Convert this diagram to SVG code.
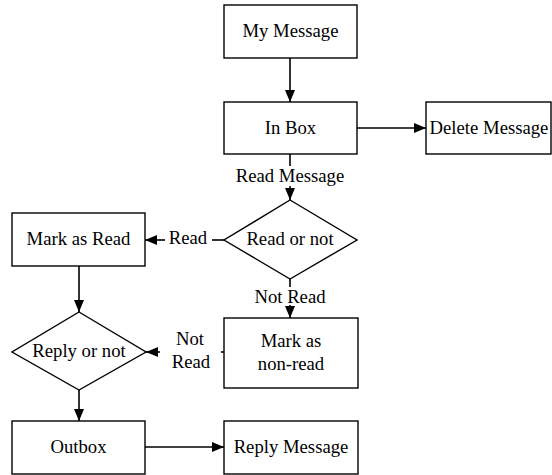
<svg xmlns="http://www.w3.org/2000/svg" width="552" height="475" viewBox="0 0 552 475">
<style>
.box{fill:#fff;stroke:#000;stroke-width:1.4}
.ln{fill:none;stroke:#000;stroke-width:1.6}
text{font-family:"Liberation Serif","Times New Roman",serif;font-size:18.7px;fill:#000;text-anchor:middle}
</style>
<defs>
<marker id="ah" viewBox="0 0 12 10" refX="12" refY="5" markerWidth="12" markerHeight="10" markerUnits="userSpaceOnUse" orient="auto">
<path d="M0,0 L12,5 L0,10 Z" fill="#000"/>
</marker>
</defs>
<rect width="552" height="475" fill="#fff"/>
<g id="connectors">
<line class="ln" x1="290" y1="58" x2="290" y2="102" marker-end="url(#ah)"/>
<line class="ln" x1="357" y1="128" x2="426" y2="128" marker-end="url(#ah)"/>
<line class="ln" x1="290" y1="154" x2="290" y2="166"/>
<line class="ln" x1="290" y1="186" x2="290" y2="200" marker-end="url(#ah)"/>
<text x="290" y="182">Read Message</text>
<line class="ln" x1="224" y1="240" x2="212" y2="240"/>
<line class="ln" x1="165" y1="240" x2="145" y2="240" marker-end="url(#ah)"/>
<text x="188" y="244">Read</text>
<line class="ln" x1="290" y1="279" x2="290" y2="287"/>
<line class="ln" x1="290" y1="305" x2="290" y2="318" marker-end="url(#ah)"/>
<text x="290" y="303">Not Read</text>
<line class="ln" x1="79" y1="266" x2="79" y2="312" marker-end="url(#ah)"/>
<line class="ln" x1="224" y1="352" x2="221" y2="352"/>
<line class="ln" x1="160" y1="352" x2="146" y2="352" marker-end="url(#ah)"/>
<text x="190" y="345">Not</text>
<text x="191" y="368">Read</text>
<line class="ln" x1="79" y1="390" x2="79" y2="421" marker-end="url(#ah)"/>
<line class="ln" x1="145" y1="447" x2="224" y2="447" marker-end="url(#ah)"/>
</g>
<g id="my-message"><rect class="box" x="224" y="5" width="133" height="53"/><text x="290.5" y="37">My Message</text></g>
<g id="in-box"><rect class="box" x="224" y="102" width="133" height="52"/><text x="290.5" y="134">In Box</text></g>
<g id="delete-message"><rect class="box" x="426" y="102" width="125" height="52"/><text x="489" y="134">Delete Message</text></g>
<g id="read-or-not"><polygon class="box" points="290,200 357,240 290,279 224,240"/><text x="290" y="245">Read or not</text></g>
<g id="mark-as-read"><rect class="box" x="12" y="213" width="133" height="53"/><text x="78.5" y="245">Mark as Read</text></g>
<g id="mark-as-non-read"><rect class="box" x="224" y="318" width="134" height="70"/><text x="291" y="347">Mark as</text><text x="291" y="370">non-read</text></g>
<g id="reply-or-not"><polygon class="box" points="79,312 146,352 79,390 12,352"/><text x="79" y="357">Reply or not</text></g>
<g id="outbox"><rect class="box" x="12" y="421" width="133" height="53"/><text x="78.5" y="453">Outbox</text></g>
<g id="reply-message"><rect class="box" x="224" y="421" width="134" height="53"/><text x="291" y="453">Reply Message</text></g>
</svg>
